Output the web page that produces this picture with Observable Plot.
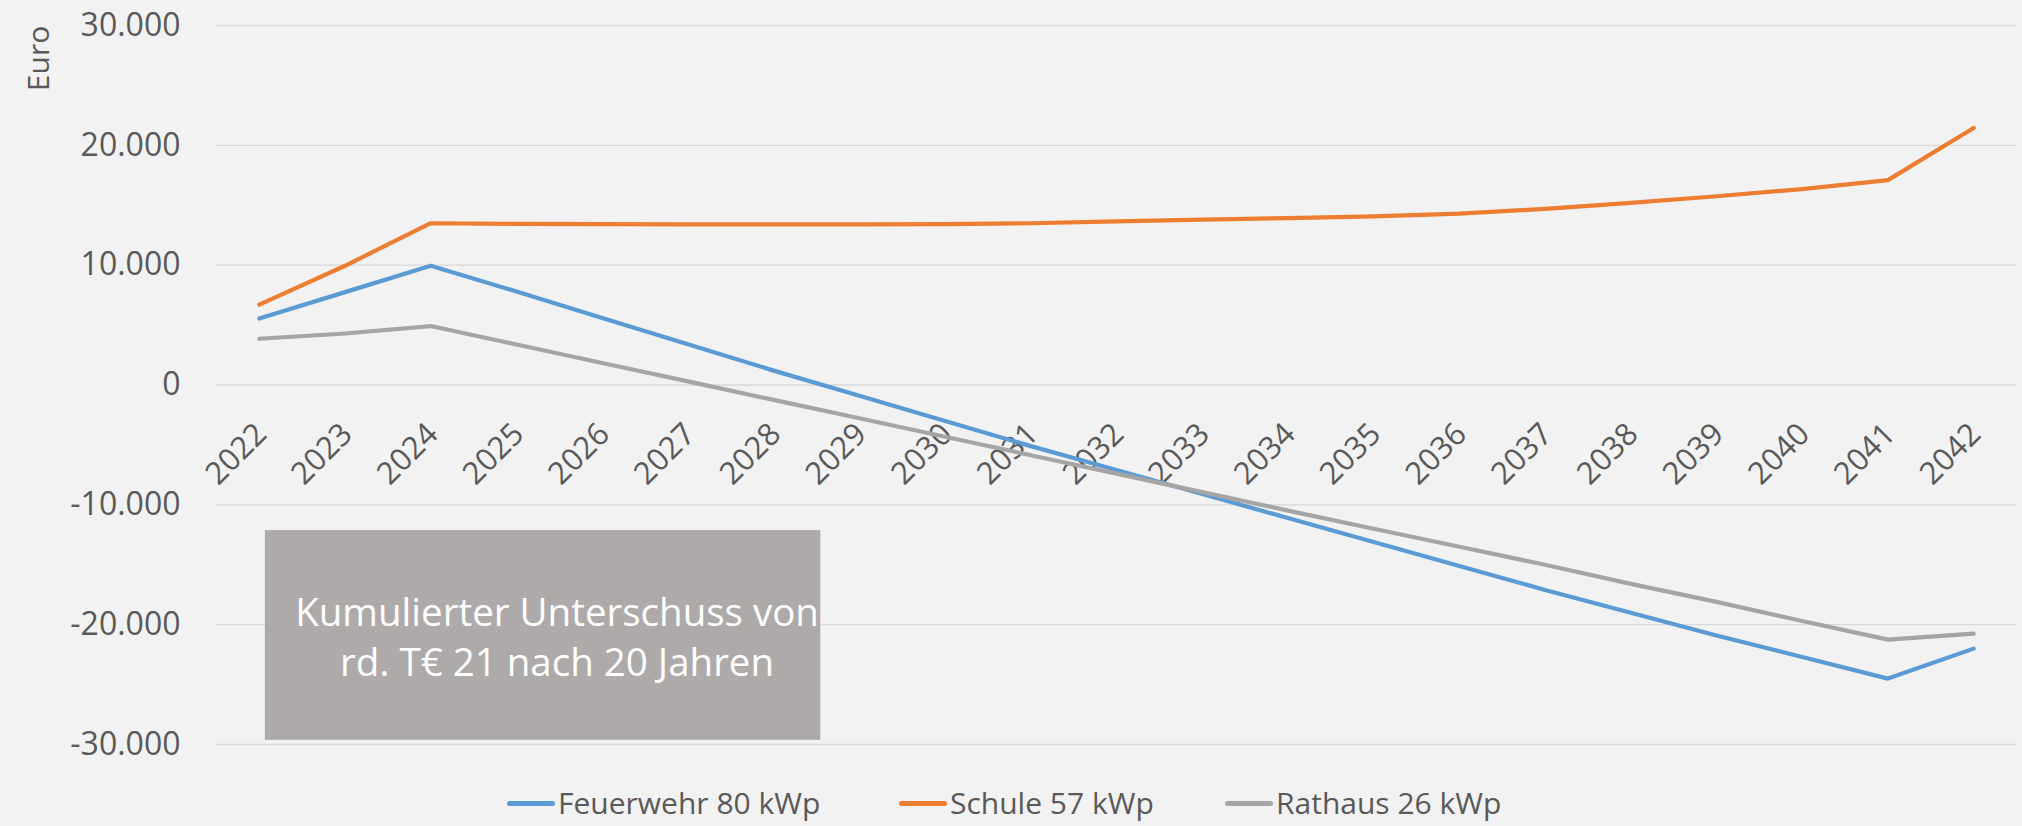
<!DOCTYPE html>
<html>
<head>
<meta charset="utf-8">
<script src="https://cdn.jsdelivr.net/npm/d3@7"></script>
<script src="https://cdn.jsdelivr.net/npm/@observablehq/plot@0.6"></script>
<style>
  html, body { margin: 0; padding: 0; background: #f2f2f2; }
  #chart { width: 2022px; height: 826px; background: #f2f2f2; overflow: hidden; }
  #legend { height: 56px; display: flex; justify-content: flex-start; align-items: center;
            padding-left: 507px; padding-top: 10px; box-sizing: border-box;
            font-family: "Open Sans", sans-serif; font-size: 30px; line-height: 40px; color: #595959; }
  .item { display: flex; align-items: center; }
  .sw { width: 48px; height: 5px; border-radius: 3px; margin-right: 3px; }
</style>
</head>
<body>
<div id="chart"></div>
<script>
const years = [2022, 2023, 2024, 2025, 2026, 2027, 2028, 2029, 2030, 2031, 2032, 2033, 2034, 2035, 2036, 2037, 2038, 2039, 2040, 2041, 2042];
const feuerwehr = [5550, 7750, 9950, 7800, 5600, 3400, 1200, -900, -3000, -5100, -7100, -9100, -11100, -13100, -15100, -17100, -19000, -20900, -22700, -24500, -22000];
const schule = [6700, 9950, 13500, 13450, 13420, 13400, 13400, 13400, 13420, 13500, 13650, 13800, 13930, 14070, 14300, 14700, 15200, 15750, 16350, 17100, 21450];
const rathaus = [3860, 4300, 4920, 3380, 1840, 300, -1240, -2780, -4320, -5860, -7400, -8940, -10480, -12000, -13500, -15000, -16600, -18100, -19700, -21250, -20750];
const seriesNames = ["Feuerwehr 80 kWp", "Schule 57 kWp", "Rathaus 26 kWp"];
const seriesColors = ["#5b9bd5", "#ed7d31", "#a5a5a5"];
const yTicks = [-30000, -20000, -10000, 0, 10000, 20000, 30000];
const yLabel = "Euro";
const noteText = "Kumulierter Unterschuss von\nrd. T€ 21 nach 20 Jahren";
const noteBox = {x1: 2022.07, x2: 2028.55, y1: -29650, y2: -12150};

const seriesValues = [feuerwehr, schule, rathaus];
const rows = [];
seriesNames.forEach((name, i) => years.forEach((yr, j) => rows.push({series: name, year: yr, value: seriesValues[i][j]})));

const de = d3.formatLocale({decimal: ",", thousands: ".", grouping: [3], currency: ["", " €"], minus: "-"});
const fmt = de.format(",d");

const plot = Plot.plot({
  width: 2022,
  height: 770,
  marginLeft: 216,
  marginRight: 6,
  marginTop: 25,
  marginBottom: 26,
  style: {background: "#f2f2f2", fontFamily: "Open Sans, sans-serif", color: "#595959", overflow: "visible"},
  x: {domain: [2021.5, 2042.5], axis: null},
  y: {domain: [-30000, 30000], axis: null},
  color: {domain: seriesNames, range: seriesColors},
  marks: [
    Plot.ruleY(yTicks, {stroke: "#d9d9d9", strokeWidth: 1.4}),
    Plot.axisY(yTicks, {tickSize: 0, tickPadding: 36, tickFormat: fmt, fontSize: 32, fill: "#595959", label: null}),
    Plot.text([yLabel], {frameAnchor: "top-left", text: d => d, rotate: -90, dx: -189, dy: 33, fontSize: 30, fill: "#595959", textAnchor: "middle"}),
    Plot.rect([noteBox], {x1: "x1", x2: "x2", y1: "y1", y2: "y2", fill: "#adaaa9"}),
    Plot.text([noteBox], {x: d => (d.x1 + d.x2) / 2, y: d => (d.y1 + d.y2) / 2, text: () => noteText, fill: "white", fontSize: 38.5, lineHeight: 1.3, textAnchor: "middle", dx: 14}),
    Plot.text(years, {x: d => d, y: () => 0, text: d => String(d), rotate: -45, textAnchor: "end", dx: 2, dy: 44, fontSize: 31, fill: "#595959"}),
    Plot.line(rows, {x: "year", y: "value", z: "series", stroke: "series", strokeWidth: 4.2, strokeLinecap: "round", strokeLinejoin: "round"})
  ]
});
document.getElementById("chart").appendChild(plot);

const itemWidths = [392, 326, null];
const legend = document.createElement("div");
legend.id = "legend";
seriesNames.forEach((name, i) => {
  const item = document.createElement("div");
  item.className = "item";
  if (itemWidths[i]) item.style.width = itemWidths[i] + "px";
  const sw = document.createElement("div");
  sw.className = "sw";
  sw.style.background = seriesColors[i];
  const lab = document.createElement("span");
  lab.textContent = name;
  item.appendChild(sw);
  item.appendChild(lab);
  legend.appendChild(item);
});
document.getElementById("chart").appendChild(legend);
</script>
</body>
</html>
